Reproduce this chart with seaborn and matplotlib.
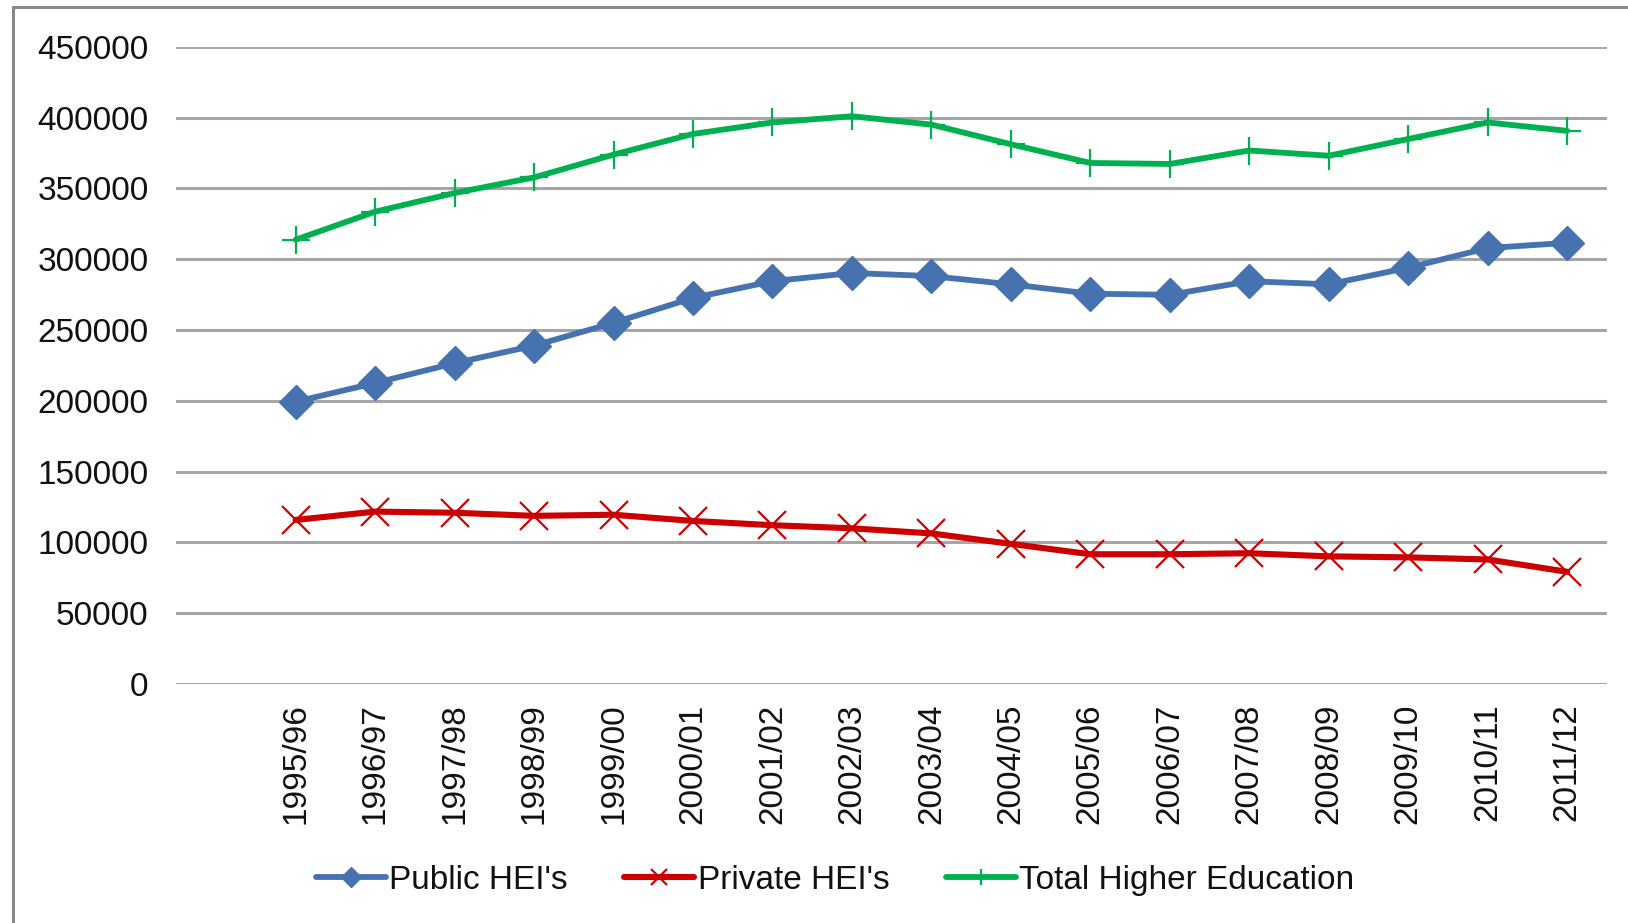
import pandas as pd
import matplotlib
matplotlib.use('Agg')
import matplotlib.pyplot as plt
import seaborn as sns
from matplotlib.lines import Line2D

# academic years on the x axis
years = ['1995/96', '1996/97', '1997/98', '1998/99', '1999/00', '2000/01',
         '2001/02', '2002/03', '2003/04', '2004/05', '2005/06', '2006/07',
         '2007/08', '2008/09', '2009/10', '2010/11', '2011/12']

# enrolment values
public_hei = [199300, 212500, 226500, 238900, 255000, 272600, 284400, 290200,
              288000, 282200, 275600, 274800, 284400, 282200, 293900, 307800,
              311500]
private_hei = [115800, 121700, 120900, 118700, 119500, 115100, 112100, 109900,
               106300, 98900, 91600, 91600, 92300, 90100, 89400, 87900, 79200]
total_he = [313700, 333500, 346700, 357700, 373800, 388400, 396500, 400900,
            395000, 381100, 367900, 367200, 376700, 373000, 384800, 396500,
            390600]

y_ticks = [0, 50000, 100000, 150000, 200000, 250000, 300000, 350000, 400000, 450000]

df = pd.DataFrame({'year': years, 'public': public_hei,
                   'private': private_hei, 'total': total_he})

sns.set_style('white')
plt.rcParams['font.family'] = ['Liberation Sans', 'DejaVu Sans']

fig = plt.figure(figsize=(16.28, 9.23), dpi=100)
ax = fig.add_axes([0.1084, 0.259, 0.8786, 0.6904])

blue = '#4673b0'
red = '#cc0000'
green = '#00b050'

sns.lineplot(x='year', y='public', data=df, ax=ax, color=blue, linewidth=4.2,
             marker='D', markersize=17, markeredgecolor=blue, markeredgewidth=1,
             label="Public HEI's", sort=False)
sns.lineplot(x='year', y='private', data=df, ax=ax, color=red, linewidth=4.4,
             marker='x', markersize=20, markeredgecolor=red, markeredgewidth=1.6,
             label="Private HEI's", sort=False)
sns.lineplot(x='year', y='total', data=df, ax=ax, color=green, linewidth=4.2,
             marker='+', markersize=20, markeredgecolor=green, markeredgewidth=1.6,
             label='Total Higher Education', sort=False)

# one empty category slot before the first year
ax.set_xlim(-1.5, len(years) - 0.5)
ax.set_ylim(0, 450000)
ax.set_yticks(y_ticks)
ax.set_yticklabels([str(v) for v in y_ticks])
ax.set_xlabel('')
ax.set_ylabel('')

ax.yaxis.grid(True, color='#a6a6a6', linewidth=2.2)
ax.xaxis.grid(False)
ax.set_axisbelow(True)
for s in ax.spines.values():
    s.set_visible(False)

ax.tick_params(axis='both', length=0, labelsize=24, labelcolor='#111111')
ax.tick_params(axis='y', pad=20)
ax.tick_params(axis='x', pad=14)
plt.setp(ax.get_xticklabels(), rotation=90, va='top')

ax.get_legend().remove()
handles, labels = ax.get_legend_handles_labels()
leg = fig.legend(handles, labels, loc='center', bbox_to_anchor=(0.513, 0.046),
                 ncol=3, frameon=False, fontsize=24, handlelength=2.1,
                 handletextpad=0.1, columnspacing=1.7, markerscale=0.6)
for t in leg.get_texts():
    t.set_color('#111111')

# grey frame on top and left edge of the picture
fig.add_artist(Line2D([0.008, 1.0], [0.9925, 0.9925], color='#888888', linewidth=2.2,
                      transform=fig.transFigure))
fig.add_artist(Line2D([0.008, 0.008], [0.0, 0.9925], color='#888888', linewidth=2.2,
                      transform=fig.transFigure))

fig.savefig('out.png', dpi=100)
